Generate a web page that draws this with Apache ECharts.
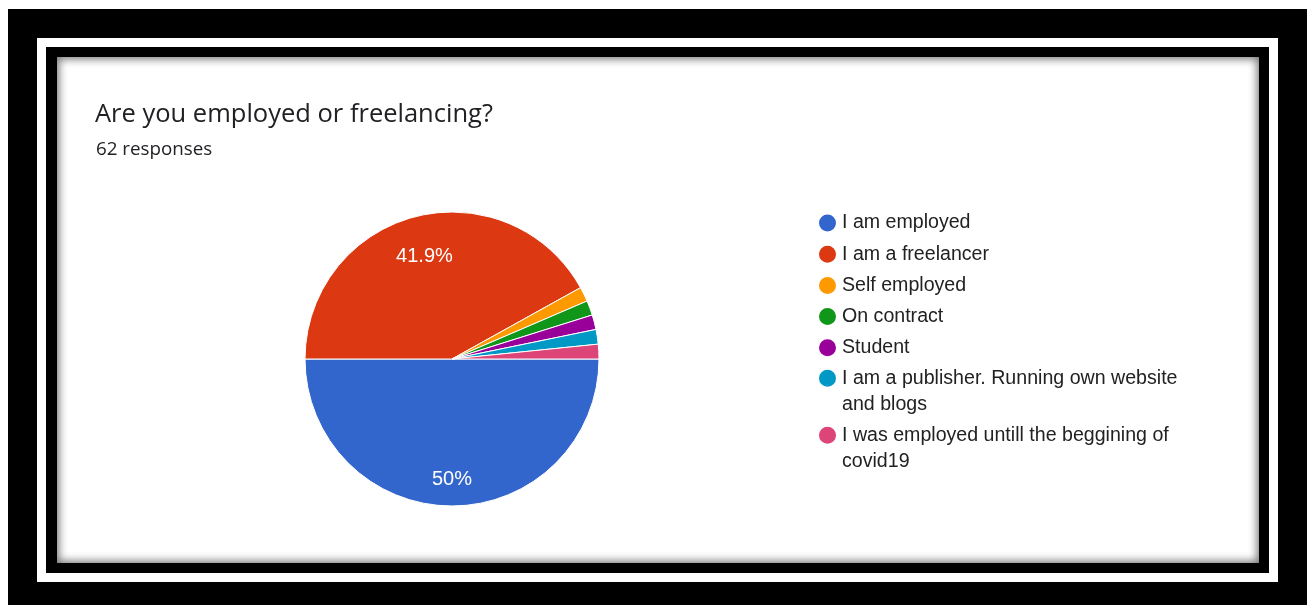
<!DOCTYPE html>
<html>
<head>
<meta charset="utf-8">
<script src="https://cdn.jsdelivr.net/npm/echarts@6/dist/echarts.min.js"></script>
<style>
html,body{margin:0;padding:0;width:1311px;height:605px;background:#fff;overflow:hidden;}
.box{position:absolute;box-sizing:border-box;}
#f1{left:8px;top:9px;width:1299px;height:596px;background:#000;}
#f2{left:37px;top:38px;width:1241px;height:544px;background:#fff;}
#f3{left:46px;top:47px;width:1223px;height:526px;background:#000;}
#f4{left:57px;top:57px;width:1202px;height:506px;background:#fff;box-shadow:inset 0 0 9px 2px rgba(0,0,0,0.55);}
#chart{position:absolute;left:0;top:0;width:1311px;height:605px;}
</style>
</head>
<body>
<div class="box" id="f1"></div>
<div class="box" id="f2"></div>
<div class="box" id="f3"></div>
<div class="box" id="f4"></div>
<div id="chart"></div>
<script>
const titleText = 'Are you employed or freelancing?';
const subtitleText = '62 responses';
const categories = [
  'I am employed',
  'I am a freelancer',
  'Self employed',
  'On contract',
  'Student',
  'I am a publisher. Running own website and blogs',
  'I was employed untill the beggining of covid19'
];
const legendLines = [
  'I am employed',
  'I am a freelancer',
  'Self employed',
  'On contract',
  'Student',
  ' \nI am a publisher. Running own website\nand blogs',
  ' \nI was employed untill the beggining of\ncovid19'
];
const counts = [31, 26, 1, 1, 1, 1, 1];
const colors = ['#3366cc', '#dc3912', '#ff9900', '#109618', '#990099', '#0099c6', '#dd4477'];
// extra spacer token used to nudge the in-slice percentage labels outward
const labelSpacer = ['big', 'small', '', '', '', '', ''];

const pieData = categories.map((c, i) => ({ name: c, value: counts[i], itemStyle: { color: colors[i] } }));
const labelData = categories.map((c, i) => ({ name: c, value: counts[i] }));
const lineMap = {};
categories.forEach((c, i) => { lineMap[c] = legendLines[i]; });

const legendText = { fontFamily: 'Liberation Sans, Arial, sans-serif', fontSize: 19.6, color: '#222222', lineHeight: 26 };
const legendBase = {
  orient: 'vertical', left: 817, padding: 0, itemWidth: 19, itemHeight: 19, itemGap: 5.2, itemTextGap: 10,
  icon: 'circle', selectedMode: false, formatter: n => lineMap[n], textStyle: legendText
};

const chart = echarts.init(document.getElementById('chart'), null, { renderer: 'canvas' });
chart.setOption({
  animation: false,
  backgroundColor: 'transparent',
  title: [
    { text: titleText, left: 95, top: 102, padding: 0,
      textStyle: { fontFamily: 'Open Sans, sans-serif', fontSize: 25.5, fontWeight: 'normal', color: '#202124' } },
    { text: subtitleText, left: 96, top: 140, padding: 0,
      textStyle: { fontFamily: 'Open Sans, sans-serif', fontSize: 18.8, fontWeight: 'normal', color: '#202124' } }
  ],
  legend: [
    Object.assign({}, legendBase, { top: 210, data: categories.slice(0, 5) }),
    Object.assign({}, legendBase, { top: 378.3 - 39, data: [categories[5]] }),
    Object.assign({}, legendBase, { top: 435.3 - 39, data: [categories[6]] })
  ],
  series: [
    {
      type: 'pie', center: [452, 359], radius: 147, startAngle: 0, clockwise: true,
      silent: true, data: pieData,
      itemStyle: { borderColor: '#ffffff', borderWidth: 1 },
      label: { show: false }, labelLine: { show: false }
    },
    {
      type: 'pie', center: [452, 359], radius: [67, 147], startAngle: 0, clockwise: true,
      silent: true, data: labelData, minShowLabelAngle: 10,
      itemStyle: { color: 'rgba(0,0,0,0)', borderWidth: 0 },
      label: {
        show: true, position: 'inside', color: '#ffffff', fontSize: 20,
        fontFamily: 'Liberation Sans, Arial, sans-serif',
        formatter: p => {
          const txt = '{v|' + (Math.round(p.percent * 10) / 10) + '%}';
          const sp = labelSpacer[p.dataIndex];
          return sp ? '{' + sp + '| }\n' + txt : txt;
        },
        rich: {
          v: { color: '#ffffff', fontSize: 20, lineHeight: 24, fontFamily: 'Liberation Sans, Arial, sans-serif' },
          big: { fontSize: 10, lineHeight: 20 },
          small: { fontSize: 6, lineHeight: 8 }
        }
      },
      labelLine: { show: false }
    }
  ]
});
</script>
</body>
</html>
